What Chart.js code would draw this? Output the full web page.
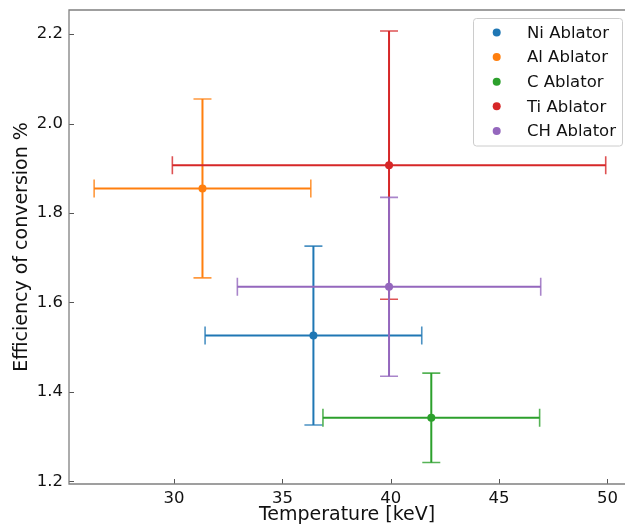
<!DOCTYPE html>
<html>
<head>
<meta charset="utf-8">
<script src="https://cdn.jsdelivr.net/npm/chart.js@4/dist/chart.umd.min.js"></script>
<style>
  html, body { margin: 0; padding: 0; background: #fff; }
  #wrap { width: 625px; height: 528px; }
</style>
</head>
<body>
<div id="wrap"><canvas id="plot" width="625" height="528"></canvas></div>
<script>
// data
var labels  = ['Ni Ablator', 'Al Ablator', 'C Ablator', 'Ti Ablator', 'CH Ablator'];
var colors  = ['#1f77b4', '#ff7f0e', '#2ca02c', '#d62728', '#9467bd'];
var temps   = [36.43, 31.31, 41.87, 39.92, 39.92];
var effs    = [1.526, 1.855, 1.342, 1.907, 1.635];
var tempErr = [5, 5, 5, 10, 7];
var effErr  = [0.2, 0.2, 0.1, 0.3, 0.2];
var xTicks  = [30, 35, 40, 45, 50];
var yTicks  = [1.2, 1.4, 1.6, 1.8, 2.0, 2.2];

var FONT = "'DejaVu Sans', sans-serif";

var datasets = labels.map(function(name, i) {
    return {
        label: name,
        data: [{x: temps[i], y: effs[i]}],
        backgroundColor: colors[i],
        borderColor: colors[i],
        pointRadius: 4,
        pointBorderWidth: 0,
        errX: tempErr[i],
        errY: effErr[i],
        // later series on top, like matplotlib
        order: labels.length - i
    };
});

// stop chart.js from reserving room for the edge tick labels
function noPad(s) {
    s.paddingTop = 0; s.paddingBottom = 0;
    s.paddingLeft = 0; s.paddingRight = 0;
    if (s._margins) {
        s._margins.top = 0; s._margins.bottom = 0;
        s._margins.right = 0;
    }
}

// error bars, frame, inward ticks, legend
var extras = {
    id: 'extras',
    beforeDatasetDraw: function(chart, args) {
        var ds = chart.data.datasets[args.index];
        var xs = chart.scales.x, ys = chart.scales.y;
        var ctx = chart.ctx;
        var cap = 9;
        ds.data.forEach(function(p) {
            var cx = xs.getPixelForValue(p.x), cy = ys.getPixelForValue(p.y);
            var x0 = xs.getPixelForValue(p.x - ds.errX), x1 = xs.getPixelForValue(p.x + ds.errX);
            var y0 = ys.getPixelForValue(p.y - ds.errY), y1 = ys.getPixelForValue(p.y + ds.errY);
            ctx.save();
            ctx.strokeStyle = ds.borderColor;
            ctx.lineWidth = 2;
            ctx.beginPath();
            ctx.moveTo(x0, cy); ctx.lineTo(x1, cy);
            ctx.moveTo(cx, y0); ctx.lineTo(cx, y1);
            ctx.stroke();
            ctx.globalAlpha = 0.8;
            ctx.lineWidth = 1.6;
            ctx.beginPath();
            ctx.moveTo(x0, cy - cap); ctx.lineTo(x0, cy + cap);
            ctx.moveTo(x1, cy - cap); ctx.lineTo(x1, cy + cap);
            ctx.moveTo(cx - cap, y0); ctx.lineTo(cx + cap, y0);
            ctx.moveTo(cx - cap, y1); ctx.lineTo(cx + cap, y1);
            ctx.stroke();
            ctx.restore();
        });
    },
    afterDraw: function(chart) {
        var ctx = chart.ctx;
        var a = chart.chartArea;
        var xs = chart.scales.x, ys = chart.scales.y;
        ctx.save();
        // ticks pointing in
        ctx.strokeStyle = '#555';
        ctx.lineWidth = 1;
        ctx.beginPath();
        xTicks.forEach(function(v) {
            var px = Math.round(xs.getPixelForValue(v)) + 0.5;
            ctx.moveTo(px, a.bottom); ctx.lineTo(px, a.bottom - 5);
        });
        yTicks.forEach(function(v) {
            var py = Math.round(ys.getPixelForValue(v)) + 0.5;
            ctx.moveTo(a.left, py); ctx.lineTo(a.left + 5, py);
        });
        ctx.stroke();
        // frame: left, top, bottom (right edge falls off the picture)
        ctx.strokeStyle = '#808080';
        ctx.lineWidth = 1.3;
        ctx.beginPath();
        ctx.moveTo(a.right + 2, a.top); ctx.lineTo(a.left, a.top);
        ctx.lineTo(a.left, a.bottom); ctx.lineTo(a.right + 2, a.bottom);
        ctx.stroke();

        // legend
        var lx = 473.5, ly = 18.5, lw = 149, lh = 127.5;
        ctx.beginPath();
        ctx.roundRect(lx, ly, lw, lh, 3);
        ctx.fillStyle = 'rgba(255,255,255,0.8)';
        ctx.fill();
        ctx.strokeStyle = '#cccccc';
        ctx.lineWidth = 1;
        ctx.stroke();
        ctx.font = '16.5px ' + FONT;
        ctx.textBaseline = 'middle';
        chart.data.datasets.forEach(function(ds, i) {
            var ry = 32.5 + i * 24.6;
            ctx.fillStyle = ds.backgroundColor;
            ctx.beginPath();
            ctx.arc(496.7, ry, 4, 0, Math.PI * 2);
            ctx.fill();
            ctx.fillStyle = '#111';
            ctx.fillText(ds.label, 527, ry + 1);
        });
        ctx.restore();
    }
};

new Chart(document.getElementById('plot'), {
    type: 'scatter',
    data: { datasets: datasets },
    plugins: [extras],
    options: {
        responsive: false,
        animation: false,
        layout: { autoPadding: false, padding: { top: 10, right: 0, left: 0, bottom: 0 } },
        plugins: { legend: { display: false }, tooltip: { enabled: false } },
        scales: {
            x: {
                type: 'linear',
                min: 25.15,
                max: 50.81,
                afterBuildTicks: function(s) { s.ticks = xTicks.map(function(v) { return {value: v}; }); },
                afterFit: function(s) { s.height = 44; noPad(s); },
                grid: { display: false, drawTicks: false },
                border: { display: false },
                ticks: { color: '#111', padding: 5, font: { family: FONT, size: 16.5 }, maxRotation: 0 },
                title: { display: true, text: 'Temperature [keV]', color: '#111',
                         font: { family: FONT, size: 19 }, padding: { top: 0, bottom: 2 } }
            },
            y: {
                type: 'linear',
                min: 1.194,
                max: 2.254,
                afterBuildTicks: function(s) { s.ticks = yTicks.map(function(v) { return {value: v}; }); },
                afterFit: function(s) { s.width = 69; noPad(s); },
                grid: { display: false, drawTicks: false },
                border: { display: false },
                ticks: { color: '#111', padding: 6, font: { family: FONT, size: 16.5 },
                         callback: function(v) { return v.toFixed(1); } },
                title: { display: true, text: 'Efficiency of conversion %', color: '#111',
                         font: { family: FONT, size: 19 }, padding: { top: 11, bottom: 0 } }
            }
        }
    }
});
</script>
</body>
</html>
